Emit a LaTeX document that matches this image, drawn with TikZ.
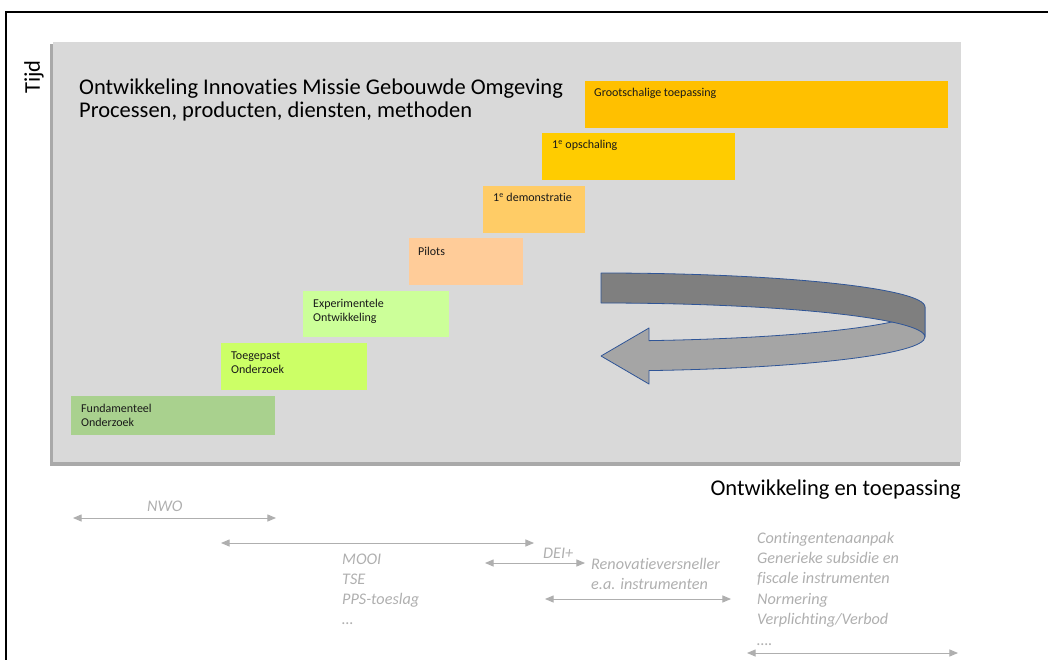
\documentclass[tikz,border=0pt]{standalone}
\usepackage{fontspec}
\setmainfont[Ligatures=NoCommon]{Carlito}
\usepackage{tikz}
\usetikzlibrary{arrows}

\definecolor{panelgrey}{HTML}{D9D9D9}
\definecolor{panelshadow}{HTML}{A9A9A9}
\definecolor{fundgreen}{HTML}{A9D18E}
\definecolor{toeglime}{HTML}{CCFF66}
\definecolor{experlime}{HTML}{CCFF99}
\definecolor{pilotpeach}{HTML}{FFCC99}
\definecolor{demoorange}{HTML}{FFCC66}
\definecolor{opschyellow}{HTML}{FFCC00}
\definecolor{grootamber}{HTML}{FFC000}
\definecolor{instrgrey}{HTML}{AFAFAF}
\definecolor{ribbondark}{HTML}{7F7F7F}
\definecolor{ribbonlight}{HTML}{A5A5A5}
\definecolor{ribbonline}{HTML}{2F5597}

\begin{document}
\begin{tikzpicture}[x=1pt,y=-1pt,
		stage/.style={rectangle, anchor=north west, inner sep=0pt, draw=none},
		stagetext/.style={anchor=base west, inner sep=0pt, align=left, text=black!90, font=\fontsize{12}{14}\selectfont},
		bigtext/.style={inner sep=0pt, align=left, text=black, font=\fontsize{22.5}{23.5}\selectfont},
		instr/.style={anchor=base west, inner sep=0pt, align=left, text=instrgrey, font=\fontsize{16.2}{20}\selectfont\itshape},
		span/.style={instrgrey, line width=1pt, triangle 45-triangle 45},
		ribbon/.style={draw=ribbonline, line width=0.8pt, line join=round}]
		\useasboundingbox (0,0) rectangle (1048,660);
		
		% frame and panel
		\draw[line width=2pt] (6,660) -- (6,12) -- (1048,12);
		\fill[panelshadow] (50,44) rectangle (960,466);
		\fill[panelgrey] (53,42) rectangle (961,462);
		
		\node[bigtext, anchor=base west] (titel) at (79,118) {Ontwikkeling Innovaties Missie Gebouwde Omgeving\\Processen, producten, diensten, methoden};
		\node[bigtext, rotate=90] (tijd) at (34,77) {Tijd};
		\node[bigtext, anchor=base east] (as) at (961,495) {Ontwikkeling en toepassing};
		
		% stages
		\node[stage, fill=fundgreen, minimum width=204pt, minimum height=39pt] (fund) at (71,396) {};
		\node[stage, fill=toeglime, minimum width=146pt, minimum height=47pt] (toeg) at (221,343) {};
		\node[stage, fill=experlime, minimum width=146pt, minimum height=46pt] (exper) at (303,291) {};
		\node[stage, fill=pilotpeach, minimum width=114pt, minimum height=47pt] (pilots) at (409,238) {};
		\node[stage, fill=demoorange, minimum width=102pt, minimum height=47pt] (demo) at (483,186) {};
		\node[stage, fill=opschyellow, minimum width=193pt, minimum height=47pt] (opsch) at (542,133) {};
		\node[stage, fill=grootamber, minimum width=363pt, minimum height=47pt] (groot) at (585,81) {};
		
		\node[stagetext] (fundtxt) at ([shift={(10,30)}]fund.north west) {Fundamenteel\\Onderzoek};
		\node[stagetext] (toegtxt) at ([shift={(10,30)}]toeg.north west) {Toegepast\\Onderzoek};
		\node[stagetext] (expertxt) at ([shift={(10,30)}]exper.north west) {Experimentele\\Ontwikkeling};
		\node[stagetext] (pilotstxt) at ([shift={(9,17)}]pilots.north west) {Pilots};
		\node[stagetext] (demotxt) at ([shift={(10,16)}]demo.north west) {1\textsuperscript{e} demonstratie};
		\node[stagetext] (opschtxt) at ([shift={(10,16)}]opsch.north west) {1\textsuperscript{e} opschaling};
		\node[stagetext] (groottxt) at ([shift={(9,16)}]groot.north west) {Grootschalige toepassing};
		
		% ribbon arrow, front part first
		\draw[ribbon, fill=ribbonlight] (925,307) arc[start angle=0, end angle=81.48, x radius=324, y radius=34]
			-- (649,328) -- (601,356) -- (649,384) -- (649,370.6)
			arc[start angle=81.48, end angle=0, x radius=324, y radius=34] -- cycle;
		\draw[ribbon, fill=ribbondark] (601,273) arc[start angle=-90, end angle=0, x radius=324, y radius=34]
			-- (925,337) arc[start angle=0, end angle=-90, x radius=324, y radius=34] -- cycle;
		
		% instruments
		\node[instr] (nwo) at (147,511) {NWO};
		\node[instr] (mooi) at (342,624) {MOOI\\TSE\\PPS-toeslag\\…};
		\node[instr] (dei) at (543,558) {DEI+};
		\node[instr] (renov) at (591,589) {Renovatieversneller\\e.a. instrumenten};
		\node[instr, font=\fontsize{16.2}{20.4}\selectfont\itshape] (generiek) at (757,645) {Contingentenaanpak\\Generieke subsidie en\\fiscale instrumenten\\Normering\\Verplichting/Verbod\\….};
		
		\coordinate (nwoL) at (73,518);
		\coordinate (nwoR) at (276,518);
		\coordinate (mooiL) at (221,543);
		\coordinate (mooiR) at (534,543);
		\coordinate (deiL) at (485,563);
		\coordinate (deiR) at (585,563);
		\coordinate (renovL) at (545,599);
		\coordinate (renovR) at (731,599);
		\coordinate (generiekL) at (747,653);
		\coordinate (generiekR) at (958,653);
		\draw[span] (nwoL) -- (nwoR);
		\draw[span] (mooiL) -- (mooiR);
		\draw[span] (deiL) -- (deiR);
		\draw[span] (renovL) -- (renovR);
		\draw[span] (generiekL) -- (generiekR);
	\end{tikzpicture}
\end{document}
